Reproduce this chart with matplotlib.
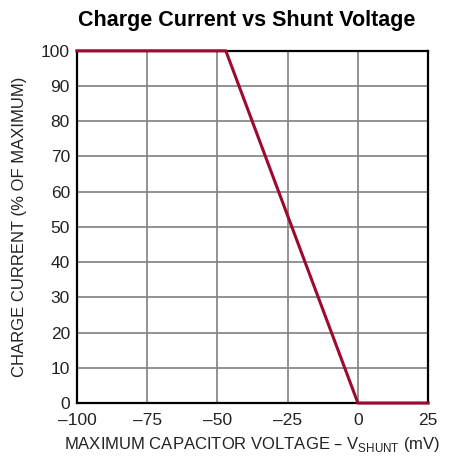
import numpy as np
import matplotlib.pyplot as plt

# data
shunt_mv = [-100, -47, 0, 25]
charge_pct = [100, 100, 0, 0]
x_ticks = [-100, -75, -50, -25, 0, 25]
y_ticks = [0, 10, 20, 30, 40, 50, 60, 70, 80, 90, 100]

plt.rcParams['font.family'] = ['Liberation Sans', 'DejaVu Sans']

fig = plt.figure(figsize=(4.55, 4.58), dpi=100)
ax = fig.add_axes([0.169, 0.120, 0.772, 0.769])

ax.plot(shunt_mv, charge_pct, color='#9b0a30', lw=2.2, zorder=3, clip_on=False)
ax.set_xlim(-100, 25)
ax.set_ylim(0, 100)
ax.set_xticks(x_ticks)
ax.set_yticks(y_ticks)
ax.set_xticklabels([str(t).replace('-', '\u2013') for t in x_ticks])
ax.grid(True, color='#808080', lw=1.2)
ax.tick_params(length=0, labelsize=12.5, colors='#222222')
ax.tick_params(axis='x', pad=7)
ax.tick_params(axis='y', pad=5)
for s in ax.spines.values():
    s.set_linewidth(1.6)
    s.set_color('black')

ax.set_xlabel('MAXIMUM CAPACITOR VOLTAGE \u2013 V$_{\\mathregular{SHUNT}}$ (mV)',
              fontsize=12, color='#222222', labelpad=5)
ax.set_ylabel('CHARGE CURRENT (% OF MAXIMUM)', fontsize=12, color='#222222', labelpad=10)
fig.text(0.542, 0.956, 'Charge Current vs Shunt Voltage', ha='center', va='center',
         fontsize=15.5, fontweight='bold')

fig.savefig('out.png', dpi=100)
